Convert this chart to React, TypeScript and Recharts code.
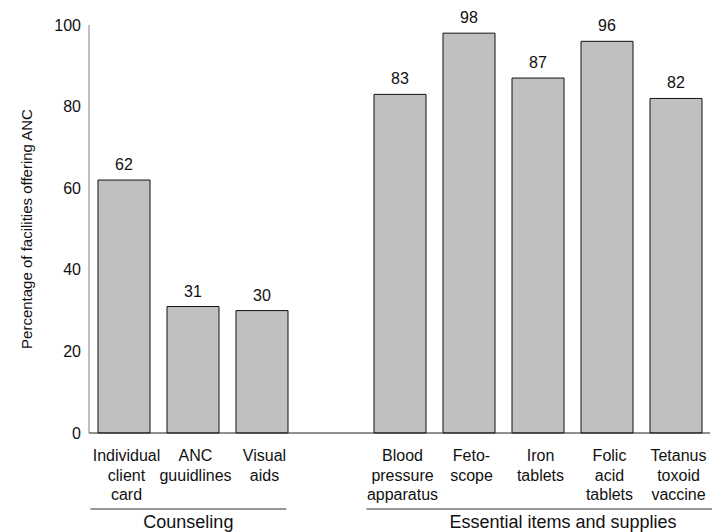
import React from 'react';
import { BarChart, Bar, XAxis, YAxis, LabelList } from 'recharts';

const categories = [
  'Individual\nclient\ncard',
  'ANC\nguuidlines',
  'Visual\naids',
  '',
  'Blood\npressure\napparatus',
  'Feto-\nscope',
  'Iron\ntablets',
  'Folic\nacid\ntablets',
  'Tetanus\ntoxoid\nvaccine',
];
const percentages = [62, 31, 30, null, 83, 98, 87, 96, 82];
const yTicks = [0, 20, 40, 60, 80, 100];
const groupNames = ['Counseling', 'Essential items and supplies'];
const groupFirst = [0, 4];
const groupLast = [2, 8];

const data = categories.map((name, i) => ({ name, value: percentages[i] }));

const FONT = '"Liberation Sans", Arial, sans-serif';

const CategoryTick = (props: any) => {
  const { x, y, payload, index } = props;
  const bw = (payload.offset || 34.5) * 2;
  const lines = String(payload.value || '').split('\n').filter(Boolean);
  const g = groupFirst.indexOf(index);
  let group = null;
  if (g >= 0) {
    const lastX = x + (groupLast[g] - groupFirst[g]) * bw;
    const x1 = x - bw * 0.48;
    const x2 = g === groupNames.length - 1 ? lastX + bw * 1.22 : lastX + bw * 0.36;
    group = (
      <g>
        <line x1={x1} x2={x2} y1={y + 68} y2={y + 68} stroke="#333" strokeWidth={1} />
        <text x={(x1 + x2) / 2} y={y + 87} textAnchor="middle" fontSize={18} fill="#111" fontFamily={FONT}>
          {groupNames[g]}
        </text>
      </g>
    );
  }
  return (
    <g>
      <text x={x + 3} y={y + 20} textAnchor="middle" fontSize={16} fill="#111" fontFamily={FONT}>
        {lines.map((ln, i) => (
          <tspan key={i} x={x + 3} dy={i === 0 ? 0 : 19.5}>
            {ln}
          </tspan>
        ))}
      </text>
      {group}
    </g>
  );
};

const YLabel = (props: any) => {
  const { viewBox } = props;
  const cx = viewBox.x + 32;
  const cy = viewBox.y + viewBox.height / 2;
  return (
    <text
      x={cx}
      y={cy}
      transform={`rotate(-90 ${cx} ${cy})`}
      textAnchor="middle"
      fontSize={15}
      fill="#111"
      fontFamily={FONT}
    >
      Percentage of facilities offering ANC
    </text>
  );
};

export default function App() {
  return (
    <div style={{ width: 712, height: 532, fontFamily: FONT }}>
      <style>{'body { margin: 0; overflow: hidden; }'}</style>
      <BarChart
        width={712}
        height={532}
        data={data}
        margin={{ top: 25, right: 2, left: 0, bottom: 0 }}
        barSize={52}
      >
        <XAxis
          dataKey="name"
          interval={0}
          height={99}
          stroke="#222"
          tickLine={false}
          tick={<CategoryTick />}
        />
        <YAxis
          width={89}
          domain={[0, 100]}
          ticks={yTicks}
          stroke="#808080"
          tickLine={false}
          tick={{ fill: '#111', fontSize: 16, fontFamily: FONT }}
          label={{ content: <YLabel /> }}
        />
        <Bar dataKey="value" fill="#c0c0c0" stroke="#111" strokeWidth={1} isAnimationActive={false}>
          <LabelList dataKey="value" position="top" offset={10} fill="#111" fontSize={16} fontFamily={FONT} />
        </Bar>
      </BarChart>
    </div>
  );
}
